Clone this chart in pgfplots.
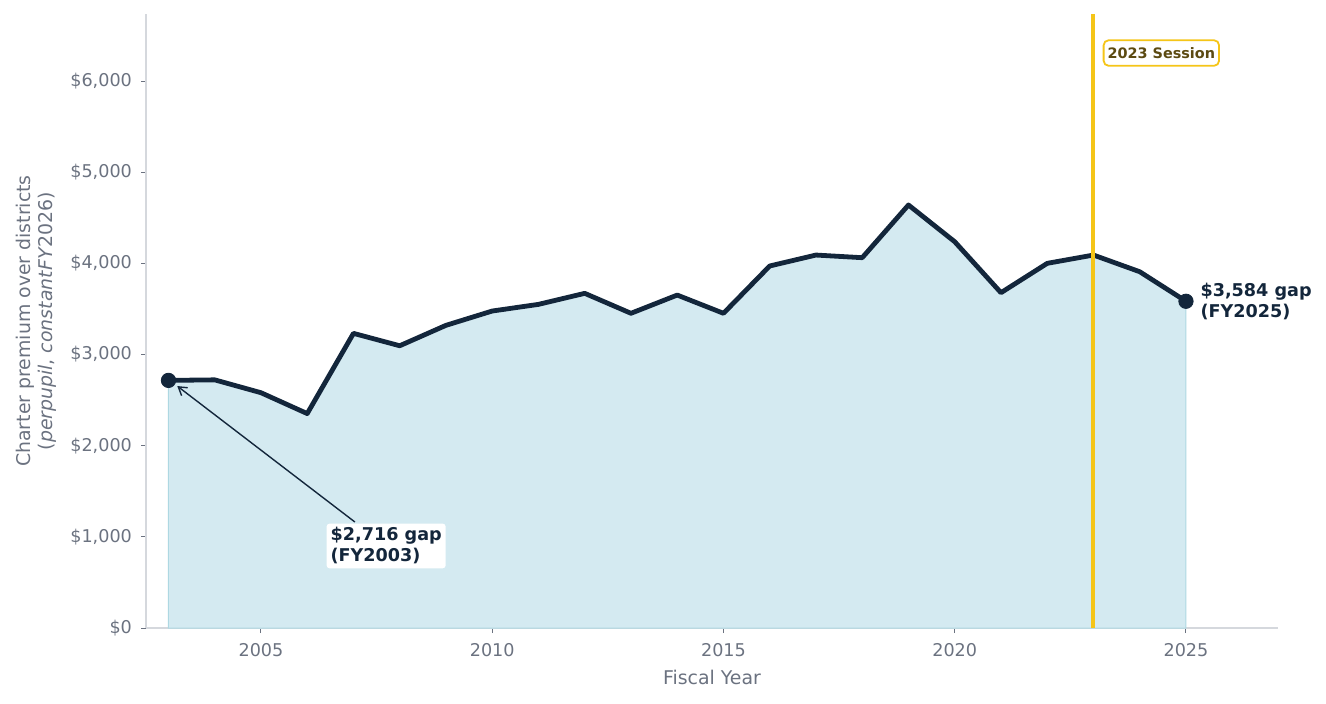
\documentclass[border=0pt]{standalone}
\usepackage{fontspec}
\setmainfont{DejaVu Sans}
\usepackage{pgfplots}
\usepackage{pgfplotstable}
\pgfplotsset{compat=1.18}
\usetikzlibrary{arrows.meta}
\definecolor{navy}{HTML}{13263B}
\definecolor{fillblue}{HTML}{D4EAF1}
\definecolor{edgeteal}{HTML}{AED8E2}
\definecolor{gold}{HTML}{F5C518}
\definecolor{sessiontext}{HTML}{5C4A12}
\definecolor{tickgray}{HTML}{6B7280}
\definecolor{spine}{HTML}{D5D8DD}
\pgfplotstableread{
year val
2003 2716
2004 2722
2005 2581
2006 2352
2007 3232
2008 3096
2009 3320
2010 3477
2011 3550
2012 3671
2013 3452
2014 3652
2015 3452
2016 3971
2017 4091
2018 4062
2019 4640
2020 4237
2021 3678
2022 4000
2023 4091
2024 3908
2025 3584
}\gapdata
\begin{document}
\begin{tikzpicture}
\begin{axis}[
  scale only axis, width=566pt, height=307pt,
  xmin=2002.514, xmax=2026.99, ymin=0, ymax=6735,
  axis x line*=bottom, axis y line*=left,
  axis line style={draw=spine, line width=0.6pt, -},
  xtick={2005,2010,2015,2020,2025},
  xticklabels={2005,2010,2015,2020,2025},
  ytick={0,1000,2000,3000,4000,5000,6000},
  yticklabels={\$0,{\$1,000},{\$2,000},{\$3,000},{\$4,000},{\$5,000},{\$6,000}},
  tick align=outside, major tick length=2.5pt,
  tick style={draw=tickgray, line width=0.5pt},
  ticklabel style={font=\fontsize{8.8}{10}\selectfont, text=tickgray},
  yticklabel style={xshift=-1pt},
  xticklabel style={yshift=-1.5pt},
  xlabel={Fiscal Year},
  ylabel={Charter premium over districts\\(\textit{perpupil}, \textit{constantFY}2026)},
  label style={font=\fontsize{9.45}{11.2}\selectfont, text=tickgray},
  ylabel style={align=center},
  clip=false,
]
\addplot[fill=fillblue, draw=edgeteal, line width=0.5pt] table[x=year,y=val]{\gapdata} \closedcycle;
\addplot[navy, line width=2.4pt, line join=round] table[x=year,y=val]{\gapdata};
\addplot[only marks, mark=*, mark size=3.6pt, navy] coordinates {(2003,2716) (2025,3584)};
\addplot[gold, line width=2pt] coordinates {(2023,0) (2023,6735)};
\draw[navy, line width=0.7pt, -{Straight Barb[length=4pt,width=5pt]}] (axis cs:2007.03,1163) -- (axis cs:2003.19,2654);
\node[anchor=west, fill=white, rounded corners=1.5pt, inner sep=2pt, align=left, text=navy, font=\fontsize{8.8}{10.5}\selectfont\bfseries] at (axis cs:2006.41,900) {\$2,716 gap\\(FY2003)};
\node[anchor=west, inner sep=2pt, align=left, text=navy, font=\fontsize{8.8}{10.5}\selectfont\bfseries] at (axis cs:2025.22,3584) {\$3,584 gap\\(FY2025)};
\node[anchor=west, fill=white, draw=gold, line width=0.9pt, rounded corners=2.5pt, inner xsep=2pt, inner ysep=3.6pt, text=sessiontext, font=\fontsize{7.2}{8}\selectfont\bfseries] at (axis cs:2023.2,6307) {2023 Session};
\end{axis}
\pgfresetboundingbox
\path[use as bounding box] ([xshift=-73pt,yshift=-37.5pt]current axis.south west) rectangle ++(663pt,351.5pt);
\end{tikzpicture}
\end{document}
